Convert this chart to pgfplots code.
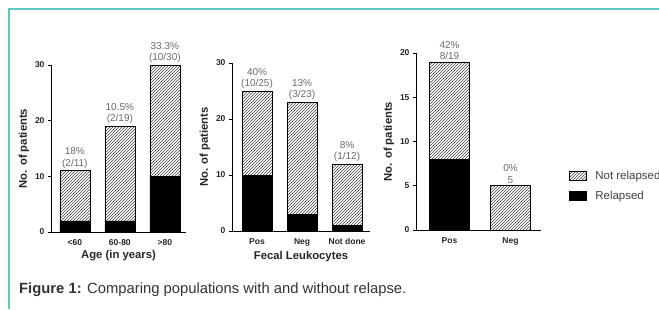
\documentclass[border=0pt]{standalone}
\usepackage{pgfplots}
\pgfplotsset{compat=1.18}
\usetikzlibrary{patterns}
\usepackage{fontspec}
\setmainfont{Liberation Sans}
\definecolor{teal1}{RGB}{96,200,190}
\definecolor{annot}{RGB}{105,105,105}
\pgfplotsset{myax/.style={
  scale only axis, axis x line*=bottom, axis y line*=left,
  ybar stacked, ymin=0, xtick={0,1,2}, tick align=outside,
  major tick length=3pt, x tick style={draw=none},
  tick label style={font=\bfseries\fontsize{8.5}{9}\selectfont, text=black!85},
  label style={font=\bfseries\fontsize{11.3}{12}\selectfont, text=black!85},
  /pgf/number format/assume math mode=true,
  axis line style={line width=0.9pt}, every tick/.style={line width=0.9pt,black},
  ylabel={No. of patients}, clip=false,
  ylabel style={yshift=-1pt},
  xlabel style={yshift=2pt},
  xticklabel style={yshift=-1pt},
}}
\tikzset{
rel/.style={fill=black, draw=black, line width=0.6pt},
nrel/.style={pattern=north east lines, pattern color=black!75, draw=black, line width=0.6pt},
ann/.style={text=annot, align=center, above, font=\fontsize{10}{11.5}\selectfont, inner sep=2pt}
}
\begin{document}
\begin{tikzpicture}[x=1pt,y=1pt]
\useasboundingbox (0,0) rectangle (659,309);
\draw[teal1, line width=1.5pt] (9,0) -- (9,300) -- (659,300);
% Panel 1
\begin{axis}[myax, at={(51pt,77pt)}, anchor=south west, width=135pt, height=167pt,
  ymax=30, ytick={0,10,20,30}, xmin=-0.53, xmax=2.47, bar width=30pt,
  xticklabels={<60,60-80,>80}, xlabel={Age (in years)}]
\addplot[rel] coordinates {(0,2) (1,2) (2,10)};
\addplot[nrel] coordinates {(0,9) (1,17) (2,20)};
\node[ann] at (axis cs:0,11) {18\%\\(2/11)};
\node[ann] at (axis cs:1,19) {10.5\%\\(2/19)};
\node[ann] at (axis cs:2,30) {33.3\%\\(10/30)};
\end{axis}
% Panel 2
\begin{axis}[myax, at={(232pt,78pt)}, anchor=south west, width=138pt, height=168pt,
  ymax=30, ytick={0,10,20,30}, xmin=-0.556, xmax=2.51, bar width=30pt,
  xticklabels={Pos,Neg,Not done}, xlabel={Fecal Leukocytes}]
\addplot[rel] coordinates {(0,10) (1,3) (2,1)};
\addplot[nrel] coordinates {(0,15) (1,20) (2,11)};
\node[ann] at (axis cs:0,25) {40\%\\(10/25)};
\node[ann] at (axis cs:1,23) {13\%\\(3/23)};
\node[ann] at (axis cs:2,12) {8\%\\(1/12)};
\end{axis}
% Panel 3
\begin{axis}[myax, at={(416pt,79pt)}, anchor=south west, width=125pt, height=177pt,
  ymax=20, ytick={0,5,10,15,20}, xtick={0,1}, xmin=-0.55, xmax=1.5, bar width=40pt,
  xticklabels={Pos,Neg},
  legend cell align=left,
  legend style={at={(1.22,0.25)}, anchor=west, draw=none, fill=none,
    font=\fontsize{11.5}{12}\selectfont\color{black!75}, row sep=6pt,
    inner sep=0pt},
  legend image code/.code={\draw[#1] (0pt,-4.5pt) rectangle (17pt,4.5pt);},
  reverse legend]
\addplot[rel] coordinates {(0,8) (1,0)};
\addlegendentry{\hspace{7pt}Relapsed}
\addplot[nrel] coordinates {(0,11) (1,5)};
\addlegendentry{\hspace{7pt}Not relapsed}
\node[ann] at (axis cs:0,19) {42\%\\8/19};
\node[ann] at (axis cs:1,5) {0\%\\5};
\end{axis}
\node[anchor=base west, inner sep=0pt, font=\fontsize{14.8}{16}\selectfont, text=black!80] at (19,16) {\textbf{Figure 1:} Comparing populations with and without relapse.};
\end{tikzpicture}
\end{document}
